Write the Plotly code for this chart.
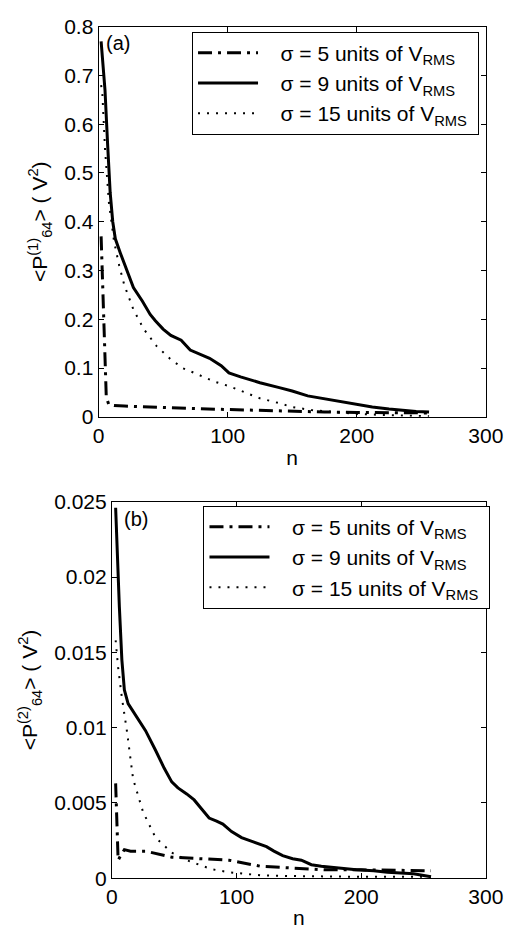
import plotly.graph_objects as go

# ---- Panel (a) data ----
n_a_s5 = [2, 3, 4, 5, 6, 8, 12, 20, 35, 50, 75, 100, 125, 150, 175, 200, 225, 256]
p_a_s5 = [0.37, 0.28, 0.17, 0.08, 0.04, 0.025, 0.023, 0.022, 0.021, 0.019, 0.017, 0.015, 0.013, 0.012, 0.010, 0.009, 0.008, 0.008]

n_a_s9 = [2, 3, 5, 7, 9, 11, 13, 17, 22, 27, 34, 40, 44, 50, 56, 64, 71, 80, 86, 95, 101, 110,
          125, 140, 150, 162, 175, 187, 200, 212, 225, 236, 246, 256]
p_a_s9 = [0.77, 0.74, 0.67, 0.56, 0.46, 0.40, 0.365, 0.335, 0.30, 0.265, 0.237, 0.21, 0.197, 0.18,
          0.167, 0.157, 0.137, 0.127, 0.12, 0.105, 0.09, 0.082, 0.07, 0.06, 0.053, 0.043, 0.037,
          0.03, 0.025, 0.02, 0.016, 0.013, 0.011, 0.01]

n_a_s15 = [2, 3, 5, 8, 12, 16, 20, 27, 35, 45, 55, 65, 76, 90, 101, 115, 125, 140, 150, 165, 180,
           200, 220, 240, 256]
p_a_s15 = [0.68, 0.66, 0.55, 0.44, 0.36, 0.31, 0.27, 0.22, 0.18, 0.145, 0.12, 0.10, 0.088, 0.072,
           0.063, 0.048, 0.038, 0.028, 0.02, 0.014, 0.01, 0.006, 0.004, 0.002, 0.001]

# ---- Panel (b) data ----
n_b_s5 = [3, 4, 5, 7, 10, 15, 27, 48, 68, 94, 119, 145, 170, 200, 230, 256]
p_b_s5 = [0.0063, 0.0035, 0.0012, 0.0015, 0.0019, 0.0018, 0.0018, 0.0014, 0.0013, 0.0012, 0.0008,
          0.0007, 0.00056, 0.00056, 0.00055, 0.0005]

n_b_s9 = [3, 5, 6, 8, 10, 13, 17, 22, 27, 35, 42, 48, 53, 60, 66, 72, 78, 84, 89, 96, 104, 114,
          124, 130, 137, 145, 152, 160, 168, 180, 196, 210, 221, 242, 256]
p_b_s9 = [0.0246, 0.020, 0.0180, 0.0145, 0.0125, 0.0116, 0.0111, 0.0105, 0.0098, 0.0085, 0.0073,
          0.0064, 0.0060, 0.0056, 0.0052, 0.0046, 0.0040, 0.0038, 0.0036, 0.0031, 0.0027, 0.0024,
          0.0021, 0.0018, 0.0015, 0.0013, 0.0012, 0.0009, 0.0008, 0.0007, 0.00056, 0.0005, 0.0004,
          0.0003, 0.0001]

n_b_s15 = [3, 5, 8, 12, 17, 25, 35, 48, 60, 68, 80, 94, 110, 119, 140, 170, 200, 256]
p_b_s15 = [0.0158, 0.0140, 0.0120, 0.0098, 0.0066, 0.0044, 0.0027, 0.0017, 0.0012, 0.00095, 0.0006,
           0.0004, 0.00025, 0.0002, 0.00015, 0.0001, 0.0001, 0.0001]

names = ["σ = 5 units of V<sub>RMS</sub>", "σ = 9 units of V<sub>RMS</sub>",
         "σ = 15 units of V<sub>RMS</sub>"]

FONT = "Liberation Sans, Arial, Helvetica, sans-serif"
PAD = "\u00a0\u00a0\u00a0"
styles = [dict(color="black", width=3, dash="14px,6px,3px,6px"),
          dict(color="black", width=3, dash="solid"),
          dict(color="black", width=2, dash="2px,7px")]

fig = go.Figure()
for nn, pp, nm, st in zip([n_a_s5, n_a_s9, n_a_s15], [p_a_s5, p_a_s9, p_a_s15], names, styles):
    fig.add_trace(go.Scatter(x=nn, y=pp, mode="lines", name=PAD + nm + "\u00a0", line=st,
                             xaxis="x", yaxis="y", legend="legend"))
for nn, pp, nm, st in zip([n_b_s5, n_b_s9, n_b_s15], [p_b_s5, p_b_s9, p_b_s15], names, styles):
    fig.add_trace(go.Scatter(x=nn, y=pp, mode="lines", name=PAD + nm + "\u00a0", line=st,
                             xaxis="x2", yaxis="y2", legend="legend2"))

W, H = 522, 940
ax_common = dict(showline=True, linecolor="black", linewidth=1, mirror="ticks", ticks="inside",
                 ticklen=5, tickcolor="black", showgrid=False, zeroline=False,
                 tickfont=dict(family=FONT, size=21, color="black"))

fig.update_layout(
    width=W, height=H, margin=dict(l=0, r=0, t=0, b=0),
    paper_bgcolor="white", plot_bgcolor="white",
    font=dict(family=FONT, size=20, color="black"),
    xaxis=dict(domain=[97 / W, 503 / W], range=[0, 300], dtick=100, anchor="y",
               title=dict(text="n", standoff=4, font=dict(size=21)), **ax_common),
    yaxis=dict(domain=[1 - 415 / H, 1 - 15 / H], range=[0, 0.8], dtick=0.1, anchor="x",
               title=dict(text="&lt;P<sup>(1)</sup><sub>64</sub>&gt; ( V<sup>2</sup>)",
                          standoff=10, font=dict(size=21)), **ax_common),
    xaxis2=dict(domain=[111 / W, 503 / W], range=[0, 300], dtick=100, anchor="y2",
                title=dict(text="n", standoff=2, font=dict(size=21)), **ax_common),
    yaxis2=dict(domain=[1 - 888 / H, 1 - 502 / H], range=[0, 0.025], dtick=0.005, anchor="x2",
                title=dict(text="&lt;P<sup>(2)</sup><sub>64</sub>&gt; ( V<sup>2</sup>)",
                           standoff=10, font=dict(size=21)), **ax_common),
    legend=dict(x=195 / W, y=1 - 20 / H, xanchor="left", yanchor="top",
                bordercolor="black", borderwidth=1, bgcolor="white",
                itemwidth=60, font=dict(family=FONT, size=21), tracegroupgap=0),
    legend2=dict(x=207 / W, y=1 - 506 / H, xanchor="left", yanchor="top",
                 bordercolor="black", borderwidth=1, bgcolor="white",
                 itemwidth=60, font=dict(family=FONT, size=21), tracegroupgap=0),
    annotations=[
        dict(text="(a)", x=103 / W, y=1 - 18 / H, xref="paper", yref="paper",
             xanchor="left", yanchor="top", showarrow=False, font=dict(size=20)),
        dict(text="(b)", x=122 / W, y=1 - 506 / H, xref="paper", yref="paper",
             xanchor="left", yanchor="top", showarrow=False, font=dict(size=20)),
    ],
)

fig.write_html("out.html")
